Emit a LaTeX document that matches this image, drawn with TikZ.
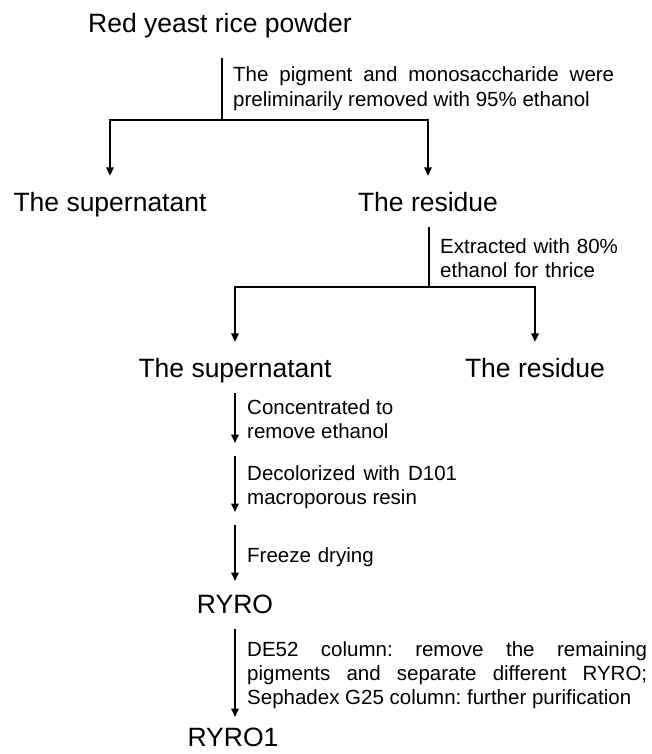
\documentclass[tikz,border=0pt]{standalone}
\usepackage{fontspec}
\setmainfont{Liberation Sans}
\usetikzlibrary{arrows.meta}
\frenchspacing
\begin{document}
\begin{tikzpicture}[x=1pt,y=-1pt,
  big/.style={font=\fontsize{26.5}{30}\selectfont, inner sep=0pt, anchor=base, text height=19pt, text depth=5pt},
  note/.style={font=\frenchspacing\fontsize{20.5}{24.2}\selectfont, inner sep=0pt, anchor=base west, align=justify},
  line/.style={line width=1.9pt},
  arr/.style={line width=1.9pt, -{Triangle[width=7.5pt,length=8.5pt]}}]
\fill[white] (0,0) rectangle (652,754);
\useasboundingbox (0,0) rectangle (652,754);
% nodes
\node[big] (rice) at (220,33) {Red yeast rice powder};
\node[big] (sup1) at (110,211) {The supernatant};
\node[big] (res1) at (428,211) {The residue};
\node[big] (sup2) at (235,377) {The supernatant};
\node[big] (res2) at (535,377) {The residue};
\node[big] (ryro) at (235,613) {RYRO};
\node[big] (ryro1) at (233,746) {RYRO1};
% notes
\node[note, text width=381pt] (n1) at (233,82) {The pigment and monosaccharide were\linebreak preliminarily removed with 95\% ethanol};
\node[note, text width=180pt, align=left] (n2) at (440,253) {Extracted with 80\%\\ethanol for thrice};
\node[note, text width=146pt] (n3) at (247,414) {Concentrated to\linebreak remove ethanol};
\node[note, text width=210pt] (n4) at (247,480) {Decolorized with D101\linebreak macroporous resin};
\node[note, text width=200pt, align=left] (n5) at (247,562) {Freeze drying};
\node[note, text width=400pt] (n6) at (247,656) {DE52 column: remove the remaining\linebreak pigments and separate different RYRO;\linebreak Sephadex G25 column: further purification};
% junctions
\coordinate (j1) at (222,120);
\coordinate (j2) at (429,287);
\coordinate (c0) at (235,393);
\coordinate (c1) at (235,443);
\coordinate (c2) at (235,456);
\coordinate (c3) at (235,512);
\coordinate (c4) at (235,525);
\coordinate (c5) at (235,581);
\coordinate (c6) at (235,629);
\coordinate (c7) at (235,717);
% connectors
\draw[line] (j1 |- rice.south) ++(0,20) -- (j1);
\draw[arr] (j1) -| ([yshift=16pt]sup1.north);
\draw[arr] (j1) -| ([yshift=16pt]res1.north);
\draw[line] (j2 |- res1.south) ++(0,11) -- (j2);
\draw[arr] (j2) -| ([yshift=16pt]sup2.north);
\draw[arr] (j2) -| ([yshift=16pt]res2.north);
\draw[arr] (c0) -- (c1);
\draw[arr] (c2) -- (c3);
\draw[arr] (c4) -- (c5);
\draw[arr] (c6) -- (c7);
\end{tikzpicture}
\end{document}
